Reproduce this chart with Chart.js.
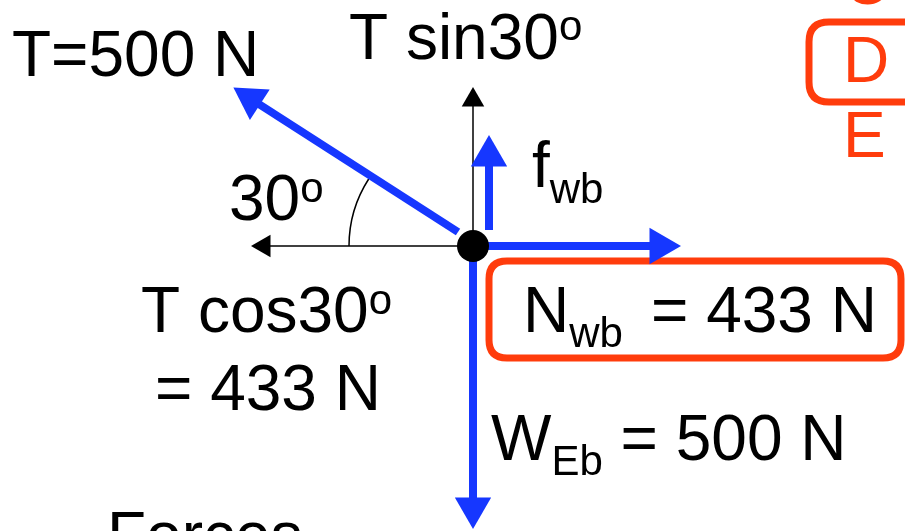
<!DOCTYPE html>
<html>
<head>
<meta charset="utf-8">
<style>
  html, body { margin: 0; padding: 0; background: #fff; overflow: hidden; }
  canvas { display: block; }
</style>
<script src="https://cdn.jsdelivr.net/npm/chart.js@4.4.1/dist/chart.umd.min.js"></script>
</head>
<body>
<canvas id="fbd" width="905" height="531"></canvas>
<script>
// forces on the block, picture units, origin on the dot (y up)
const forceNames = ["T", "fwb", "Nwb", "WEb"];
const forceStartX = [-15, 16, 0, 0];
const forceStartY = [14, 16, 0, 0];
const forceEndX = [-222, 16, 187, 0];
const forceEndY = [147, 90, 0, -262];
const forceHeadAngle = [-57, 0, 90, 180];

// thin component axes (up = T sin30, left = T cos30)
const axisEndX = [0, -209];
const axisEndY = [146, 0];
const axisHeadAngle = [0, -90];

// label texts
const tensionText = "T=500 N";
const sinText = "T sin30";
const angleText = "30";
const cosText = "T cos30";
const cosValueText = "= 433 N";
const normalValueText = "= 433 N";
const weightValueText = " = 500 N";
const sideLetters = ["C", "D", "E"];

const BLUE = "#1637ff";
const ORANGE = "#ff3c0c";
const FONT = "'Liberation Sans', Arial, sans-serif";

// draw text made of pieces (normal, sub, sup)
function drawParts(ctx, x, y, parts, color) {
  let cx = x;
  ctx.fillStyle = color || "#000";
  ctx.textBaseline = "alphabetic";
  ctx.textAlign = "left";
  parts.forEach(function (p) {
    const size = p.size || 64;
    ctx.font = size + "px " + FONT;
    ctx.fillText(p.t, cx, y + (p.dy || 0));
    cx += ctx.measureText(p.t).width;
  });
}

function roundBox(ctx, x, y, w, h, r) {
  ctx.beginPath();
  ctx.moveTo(x + r, y);
  ctx.lineTo(x + w - r, y);
  ctx.quadraticCurveTo(x + w, y, x + w, y + r);
  ctx.lineTo(x + w, y + h - r);
  ctx.quadraticCurveTo(x + w, y + h, x + w - r, y + h);
  ctx.lineTo(x + r, y + h);
  ctx.quadraticCurveTo(x, y + h, x, y + h - r);
  ctx.lineTo(x, y + r);
  ctx.quadraticCurveTo(x, y, x + r, y);
  ctx.closePath();
}

const diagramExtras = {
  id: "diagramExtras",
  beforeDatasetsDraw(chart) {
    const ctx = chart.ctx;
    const xs = chart.scales.x, ys = chart.scales.y;
    const cx = xs.getPixelForValue(0), cy = ys.getPixelForValue(0);
    const r = xs.getPixelForValue(124) - cx;
    const a = Math.atan2(forceEndY[0] - forceStartY[0], -(forceEndX[0] - forceStartX[0]));
    ctx.save();
    // angle arc
    ctx.beginPath();
    ctx.arc(cx, cy, r, Math.PI, Math.PI + a);
    ctx.lineWidth = 1.5;
    ctx.strokeStyle = "#000";
    ctx.stroke();
    // orange boxes
    ctx.lineWidth = 7;
    ctx.strokeStyle = ORANGE;
    roundBox(ctx, 489, 261, 412, 97, 18);
    ctx.stroke();
    roundBox(ctx, 809, 22, 160, 80, 20);
    ctx.stroke();
    ctx.restore();
  },
  afterDatasetsDraw(chart) {
    const ctx = chart.ctx;
    ctx.save();
    drawParts(ctx, 12, 76, [{ t: tensionText }]);
    drawParts(ctx, 349, 59, [{ t: sinText }, { t: "o", size: 42, dy: -19 }]);
    drawParts(ctx, 229, 220, [{ t: angleText }, { t: "o", size: 42, dy: -18 }]);
    drawParts(ctx, 532, 187, [{ t: "f" }, { t: "wb", size: 42, dy: 16 }]);
    drawParts(ctx, 141, 332, [{ t: cosText }, { t: "o", size: 42, dy: -18 }]);
    drawParts(ctx, 155, 410, [{ t: cosValueText }]);
    drawParts(ctx, 523, 332, [{ t: "N" }, { t: "wb", size: 42, dy: 15 }]);
    drawParts(ctx, 651, 332, [{ t: normalValueText }]);
    drawParts(ctx, 491, 460, [{ t: "W" }, { t: "Eb", size: 42, dy: 15 }, { t: weightValueText }]);
    drawParts(ctx, 107, 557, [{ t: "Forces" }]);
    drawParts(ctx, 843, 4, [{ t: sideLetters[0] }], ORANGE);
    drawParts(ctx, 843, 82, [{ t: sideLetters[1] }], ORANGE);
    drawParts(ctx, 843, 157, [{ t: sideLetters[2] }], ORANGE);
    ctx.restore();
  }
};

const datasets = [];
// the block (dot) on top
datasets.push({
  label: "block",
  data: [{ x: 0, y: 0 }],
  pointRadius: 16,
  pointBackgroundColor: "#000",
  pointBorderWidth: 0,
  showLine: false
});
forceNames.forEach(function (name, i) {
  datasets.push({
    label: name,
    data: [{ x: forceStartX[i], y: forceStartY[i] }, { x: forceEndX[i], y: forceEndY[i] }],
    showLine: true,
    borderColor: BLUE,
    borderWidth: 8,
    pointStyle: "triangle",
    pointRadius: [0, 21],
    pointRotation: [0, forceHeadAngle[i]],
    pointBackgroundColor: BLUE,
    pointBorderWidth: 0,
    clip: false
  });
});
axisEndX.forEach(function (ax, i) {
  datasets.push({
    label: "axis" + i,
    data: [{ x: 0, y: 0 }, { x: ax, y: axisEndY[i] }],
    showLine: true,
    borderColor: "#000",
    borderWidth: 1.5,
    pointStyle: "triangle",
    pointRadius: [0, 13],
    pointRotation: [0, axisHeadAngle[i]],
    pointBackgroundColor: "#000",
    pointBorderWidth: 0,
    clip: false
  });
});

new Chart(document.getElementById("fbd").getContext("2d"), {
  type: "scatter",
  data: { datasets: datasets },
  options: {
    responsive: false,
    animation: false,
    events: [],
    layout: { padding: 0, autoPadding: false },
    plugins: { legend: { display: false }, tooltip: { enabled: false } },
    scales: {
      x: { type: "linear", min: -473, max: 432, display: false },
      y: { type: "linear", min: -285, max: 246, display: false }
    }
  },
  plugins: [diagramExtras]
});
</script>
</body>
</html>
